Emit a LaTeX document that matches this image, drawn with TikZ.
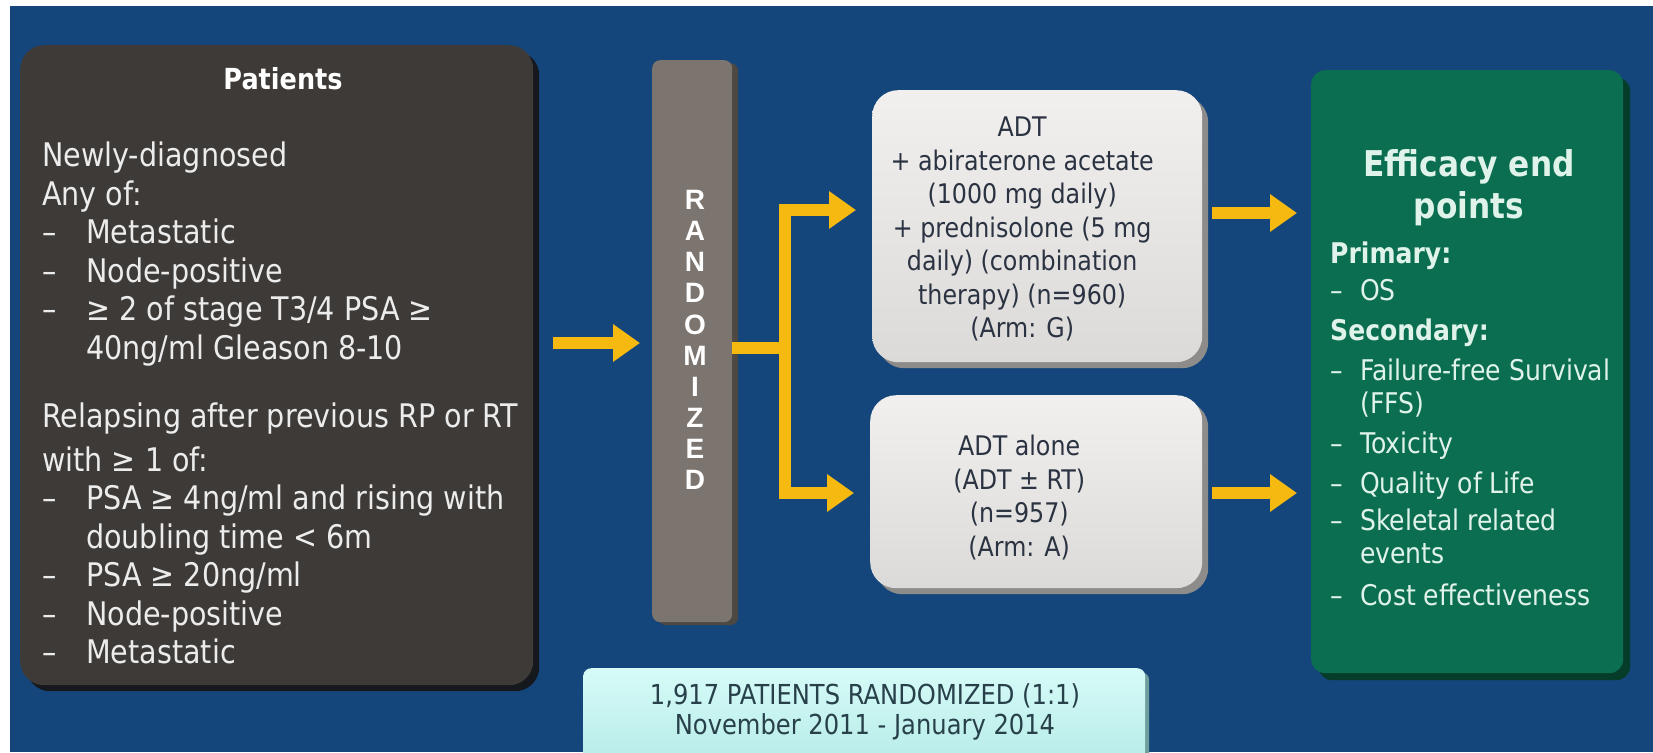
\documentclass[tikz,border=0pt]{standalone}
\usepackage{fontspec}
\setmainfont{DejaVu Sans}[FakeStretch=0.88]
\newfontfamily\randfont{Liberation Sans}
\usetikzlibrary{arrows.meta,calc,shadows}
\definecolor{bgblue}{HTML}{15467B}
\definecolor{pgray}{HTML}{3E3A37}
\definecolor{pshade}{HTML}{161412}
\definecolor{egreen}{HTML}{0B6E50}
\definecolor{eshade}{HTML}{053D2A}
\definecolor{barg}{HTML}{7B746F}
\definecolor{barshade}{HTML}{4E4843}
\definecolor{boxtop}{HTML}{F1F0EE}
\definecolor{boxbot}{HTML}{DCDAD8}
\definecolor{boxshade}{HTML}{8E8C8A}
\definecolor{boxtext}{HTML}{2B3342}
\definecolor{ayellow}{HTML}{F6B90F}
\definecolor{cyantop}{HTML}{D6FBF8}
\definecolor{cyanbot}{HTML}{B2E9E5}
\definecolor{cyanshade}{HTML}{6F9F9C}
\definecolor{cyantext}{HTML}{27404A}
\definecolor{ptext}{HTML}{ECECEC}
\definecolor{gtext}{HTML}{DFF3EA}
\tikzset{
  panel/.style={inner sep=0pt, anchor=north west, rounded corners=#1},
  yline/.style={draw=ayellow, line width=12pt},
  yarrow/.style={draw=ayellow, line width=12pt, -{Triangle[width=36pt,length=27pt]}},
  armtext/.style={align=center, text=boxtext, font=\fontsize{27}{33.5}\selectfont, inner sep=0pt},
}
\newcommand{\dashitem}[1]{\makebox[44pt][l]{–}#1}
\newcommand{\gdash}[1]{\makebox[30pt][l]{–}#1}
\begin{document}
\begin{tikzpicture}[x=1pt,y=-1pt]
\useasboundingbox (0,0) rectangle (1653,752);
\fill[white] (0,0) rectangle (1653,752);
\fill[bgblue] (10,6) rectangle (1653,752);

% Patients box
\node[panel=24pt, fill=pgray, minimum width=513pt, minimum height=640pt,
  drop shadow={shadow xshift=6pt, shadow yshift=-6pt, fill=pshade, opacity=0.9}] (pbox) at (20,45) {};
\node[font=\bfseries\fontsize{29}{34}\selectfont, text=white, inner sep=0pt] (ptitle) at (283,79) {Patients};
\node[anchor=north west, align=left, inner sep=0pt, text=ptext, font=\fontsize{32.5}{38.5}\selectfont] (ptext) at (42,142)
 {Newly-diagnosed\\
  Any of:\\
  \dashitem{Metastatic}\\
  \dashitem{Node-positive}\\
  \dashitem{≥ 2 of stage T3/4 PSA ≥}\\
  \hspace*{44pt}40ng/ml Gleason 8-10\\[30pt]
  Relapsing after previous RP or RT\\[5pt]
  with ≥ 1 of:\\
  \dashitem{PSA ≥ 4ng/ml and rising with}\\
  \hspace*{44pt}doubling time < 6m\\
  \dashitem{PSA ≥ 20ng/ml}\\
  \dashitem{Node-positive}\\
  \dashitem{Metastatic}};

% Randomized bar
\node[panel=8pt, fill=barg, minimum width=80pt, minimum height=562pt,
  drop shadow={shadow xshift=6pt, shadow yshift=-3pt, fill=barshade, opacity=1}] (rand) at (652,60) {};
\node[align=center, inner sep=0pt, text=white, font=\randfont\bfseries\fontsize{28}{31.1}\selectfont] (randtext) at (695,340)
 {R\\A\\N\\D\\O\\M\\I\\Z\\E\\D};

% Arm boxes
\node[panel=26pt, top color=boxtop, bottom color=boxbot, minimum width=330pt, minimum height=272pt,
  drop shadow={shadow xshift=6pt, shadow yshift=-6pt, fill=boxshade, opacity=1}] (gbox) at (872,90) {};
\node[armtext] (gtext) at ($(gbox.center)+(-15,3)$)
 {ADT\\+ abiraterone acetate\\(1000 mg daily)\\+ prednisolone (5 mg\\daily) (combination\\therapy) (n=960)\\(Arm: G)};
\node[panel=26pt, top color=boxtop, bottom color=boxbot, minimum width=332pt, minimum height=193pt,
  drop shadow={shadow xshift=6pt, shadow yshift=-6pt, fill=boxshade, opacity=1}] (abox) at (870,395) {};
\node[armtext] (atext) at ($(abox.center)+(-17,6)$)
 {ADT alone\\(ADT ± RT)\\(n=957)\\(Arm: A)};

% Efficacy box
\node[panel=14pt, fill=egreen, minimum width=312pt, minimum height=603pt,
  drop shadow={shadow xshift=7pt, shadow yshift=-7pt, fill=eshade, opacity=1}] (ebox) at (1311,70) {};
\node[align=center, inner sep=0pt, text=gtext, font=\bfseries\fontsize{35.5}{42}\selectfont] (etitle) at (1469,188)
 {Efficacy end\\points};
\node[anchor=north west, align=left, inner sep=0pt, text=gtext, font=\fontsize{28.5}{33}\selectfont] (elist) at (1330,242)
 {\textbf{Primary:}\\[4pt]
  \gdash{OS}\\[7pt]
  \textbf{Secondary:}\\[7pt]
  \gdash{Failure-free Survival}\\
  \hspace*{30pt}(FFS)\\[7pt]
  \gdash{Toxicity}\\[7pt]
  \gdash{Quality of Life}\\[4pt]
  \gdash{Skeletal related}\\
  \hspace*{30pt}events\\[9pt]
  \gdash{Cost effectiveness}};

% Bottom box
\node[panel=8pt, top color=cyantop, bottom color=cyanbot, minimum width=562pt, minimum height=110pt,
  drop shadow={shadow xshift=4pt, shadow yshift=-4pt, fill=cyanshade, opacity=1}] (nbox) at (583,668) {};
\node[align=center, inner sep=0pt, text=cyantext, font=\fontsize{27.5}{30.5}\selectfont] (ntext) at (865,712)
 {1,917 PATIENTS RANDOMIZED (1:1)\\November 2011 - January 2014};

% Arrows
\coordinate (j) at (785,348);
\draw[yarrow, shorten <=20pt, shorten >=12pt] (pbox.east |- 0,343) -- (rand.west |- 0,343);
\draw[yline] (rand.east |- j) -- (j);
\draw[yarrow, shorten >=16pt] (j) |- (gbox.west |- 0,210);
\draw[yarrow, shorten >=16pt] (j) |- (abox.west |- 0,493);
\draw[yarrow, shorten <=10pt, shorten >=14pt] (gbox.east |- 0,213) -- (ebox.west |- 0,213);
\draw[yarrow, shorten <=10pt, shorten >=14pt] (abox.east |- 0,493) -- (ebox.west |- 0,493);
\end{tikzpicture}
\end{document}
